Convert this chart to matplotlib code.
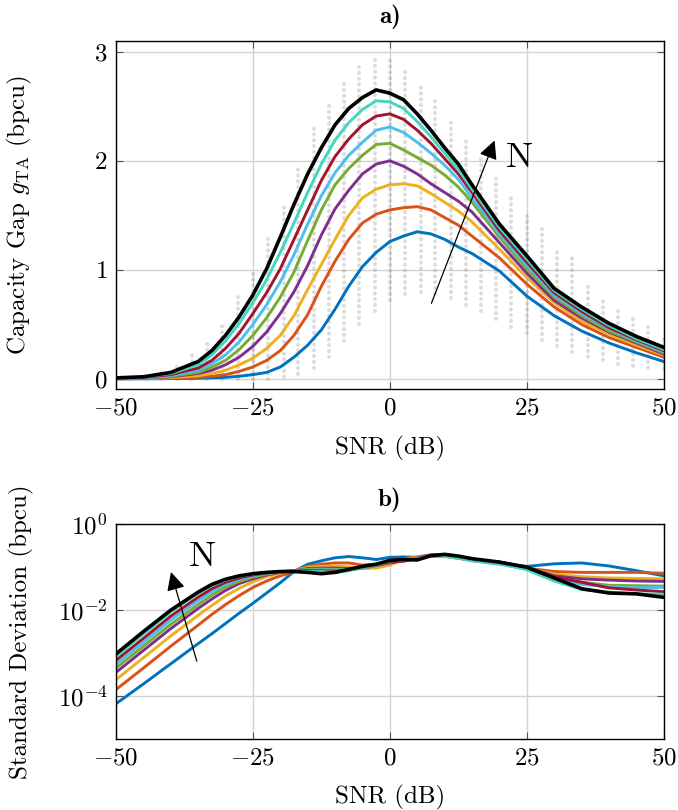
import numpy as np
import matplotlib
matplotlib.use("Agg")
import matplotlib.pyplot as plt

plt.rcParams['font.family'] = 'serif'
plt.rcParams['font.serif'] = ['cmr10']
plt.rcParams['mathtext.fontset'] = 'cm'
plt.rcParams['axes.formatter.use_mathtext'] = True
plt.rcParams['font.size'] = 18

# SNR grid (dB) for the mean curves
snr = [-50, -45, -40, -35, -32.5, -30, -27.5, -25, -22.5, -20, -17.5, -15, -12.5, -10, -7.5,
       -5, -2.5, 0, 2.5, 5, 7.5, 10, 12.5, 15, 20, 25, 30, 35, 40, 45, 50]

# a) capacity gap, one list per N (smallest N first)
gap_n1 = [0.001, 0.002, 0.004, 0.007, 0.01, 0.015, 0.025, 0.04, 0.06, 0.11, 0.20, 0.31, 0.45, 0.64, 0.85,
          1.03, 1.16, 1.26, 1.31, 1.35, 1.33, 1.28, 1.21, 1.15, 0.99, 0.76, 0.58, 0.44, 0.33, 0.24, 0.16]
gap_n2 = [0.002, 0.004, 0.008, 0.015, 0.025, 0.04, 0.07, 0.11, 0.17, 0.26, 0.40, 0.59, 0.85, 1.08, 1.28,
          1.43, 1.51, 1.55, 1.57, 1.58, 1.55, 1.48, 1.41, 1.31, 1.11, 0.87, 0.66, 0.50, 0.38, 0.29, 0.20]
gap_n3 = [0.003, 0.006, 0.012, 0.03, 0.05, 0.08, 0.13, 0.19, 0.28, 0.40, 0.58, 0.82, 1.05, 1.28, 1.50,
          1.66, 1.74, 1.78, 1.79, 1.77, 1.70, 1.62, 1.54, 1.44, 1.19, 0.93, 0.70, 0.53, 0.41, 0.31, 0.22]
gap_n4 = [0.004, 0.008, 0.02, 0.05, 0.08, 0.13, 0.20, 0.30, 0.43, 0.60, 0.80, 1.04, 1.32, 1.56, 1.73,
          1.88, 1.97, 2.00, 1.95, 1.88, 1.79, 1.71, 1.63, 1.53, 1.25, 0.97, 0.72, 0.56, 0.43, 0.33, 0.23]
gap_n5 = [0.005, 0.01, 0.025, 0.06, 0.11, 0.17, 0.27, 0.40, 0.56, 0.75, 0.98, 1.27, 1.55, 1.78, 1.93,
          2.05, 2.15, 2.16, 2.10, 2.03, 1.96, 1.87, 1.76, 1.62, 1.30, 1.01, 0.75, 0.58, 0.44, 0.34, 0.24]
gap_n6 = [0.005, 0.012, 0.03, 0.08, 0.14, 0.22, 0.34, 0.50, 0.68, 0.89, 1.14, 1.42, 1.68, 1.89, 2.05,
          2.17, 2.28, 2.31, 2.26, 2.17, 2.07, 1.96, 1.83, 1.66, 1.33, 1.04, 0.77, 0.60, 0.46, 0.35, 0.25]
gap_n7 = [0.01, 0.015, 0.04, 0.10, 0.17, 0.28, 0.42, 0.60, 0.79, 1.01, 1.28, 1.55, 1.82, 2.04, 2.20,
          2.33, 2.41, 2.43, 2.38, 2.28, 2.16, 2.02, 1.88, 1.71, 1.36, 1.07, 0.79, 0.62, 0.47, 0.36, 0.26]
gap_n8 = [0.01, 0.02, 0.05, 0.13, 0.22, 0.35, 0.51, 0.70, 0.91, 1.16, 1.43, 1.71, 1.97, 2.19, 2.35,
          2.47, 2.55, 2.54, 2.48, 2.36, 2.22, 2.07, 1.92, 1.74, 1.39, 1.10, 0.81, 0.64, 0.49, 0.37, 0.27]
gap_n9 = [0.01, 0.02, 0.06, 0.16, 0.26, 0.40, 0.57, 0.77, 1.01, 1.30, 1.60, 1.88, 2.12, 2.33, 2.48,
          2.58, 2.65, 2.62, 2.56, 2.43, 2.28, 2.12, 1.97, 1.78, 1.42, 1.13, 0.83, 0.66, 0.51, 0.39, 0.29]

# spread of the per-channel samples behind the curves
cloud_snr = [-50, -47.2, -44.4, -41.7, -38.9, -36.1, -33.3, -30.6, -27.8, -25, -22.2, -19.4, -16.7,
             -13.9, -11.1, -8.3, -5.6, -2.8, 0, 2.8, 5.6, 8.3, 11.1, 13.9, 16.7, 19.4, 22.2, 25,
             27.8, 30.6, 33.3, 36.1, 38.9, 41.7, 44.4, 47.2, 50]
cloud_hi = [0.03, 0.03, 0.05, 0.08, 0.13, 0.22, 0.35, 0.52, 0.75, 1.0, 1.28, 1.6, 1.95, 2.3, 2.55,
            2.75, 2.88, 2.95, 2.92, 2.85, 2.72, 2.55, 2.38, 2.2, 2.02, 1.85, 1.67, 1.52, 1.4, 1.2,
            1.12, 0.88, 0.75, 0.62, 0.55, 0.48, 0.4]
cloud_lo = [0.0, 0.0, 0.0, 0.0, 0.0, 0.0, 0.0, 0.0, 0.0, 0.0, 0.0, 0.02, 0.05, 0.1, 0.2, 0.35, 0.5,
            0.62, 0.72, 0.78, 0.8, 0.78, 0.74, 0.68, 0.62, 0.55, 0.48, 0.42, 0.36, 0.3, 0.25, 0.2,
            0.17, 0.14, 0.12, 0.1, 0.09]

# b) standard deviation, stored as log10 values
sd_n1 = [-4.18, -3.72, -3.25, -2.78, -2.55, -2.31, -2.07, -1.84, -1.60, -1.36, -1.10, -0.93, -0.85, -0.78, -0.75,
         -0.78, -0.82, -0.77, -0.76, -0.77, -0.74, -0.72, -0.77, -0.84, -0.90, -0.98, -0.92, -0.90, -0.97, -1.08, -1.20]
sd_n2 = [-3.85, -3.35, -2.84, -2.35, -2.10, -1.87, -1.66, -1.47, -1.32, -1.20, -1.11, -0.98, -0.93, -0.90, -0.90,
         -0.95, -0.93, -0.87, -0.80, -0.76, -0.71, -0.72, -0.77, -0.83, -0.90, -1.02, -1.10, -1.12, -1.12, -1.12, -1.14]
sd_n3 = [-3.62, -3.11, -2.60, -2.12, -1.89, -1.67, -1.49, -1.34, -1.22, -1.14, -1.08, -1.00, -0.98, -0.97, -0.99,
         -1.03, -1.02, -0.95, -0.82, -0.77, -0.73, -0.74, -0.79, -0.84, -0.91, -1.02, -1.16, -1.22, -1.25, -1.26, -1.27]
sd_n4 = [-3.45, -2.94, -2.43, -1.96, -1.74, -1.54, -1.38, -1.27, -1.18, -1.12, -1.08, -1.03, -1.02, -1.02, -1.03,
         -1.02, -0.96, -0.90, -0.85, -0.78, -0.72, -0.72, -0.76, -0.82, -0.88, -1.00, -1.20, -1.27, -1.30, -1.32, -1.33]
sd_n5 = [-3.35, -2.84, -2.33, -1.87, -1.65, -1.46, -1.33, -1.23, -1.16, -1.11, -1.08, -1.05, -1.04, -1.05, -1.05,
         -1.03, -0.95, -0.88, -0.84, -0.80, -0.74, -0.75, -0.79, -0.84, -0.92, -1.05, -1.24, -1.35, -1.42, -1.43, -1.44]
sd_n6 = [-3.26, -2.75, -2.23, -1.78, -1.57, -1.40, -1.28, -1.20, -1.14, -1.10, -1.08, -1.07, -1.06, -1.07, -1.06,
         -1.02, -0.94, -0.86, -0.82, -0.79, -0.73, -0.74, -0.79, -0.85, -0.93, -1.04, -1.25, -1.40, -1.45, -1.48, -1.47]
sd_n7 = [-3.17, -2.66, -2.14, -1.70, -1.50, -1.35, -1.25, -1.18, -1.13, -1.10, -1.09, -1.08, -1.08, -1.09, -1.07,
         -1.00, -0.95, -0.87, -0.86, -0.80, -0.72, -0.72, -0.77, -0.82, -0.88, -1.00, -1.22, -1.35, -1.48, -1.53, -1.57]
sd_n8 = [-3.08, -2.56, -2.04, -1.61, -1.43, -1.30, -1.21, -1.16, -1.12, -1.10, -1.10, -1.10, -1.10, -1.12, -1.08,
         -1.00, -0.95, -0.85, -0.83, -0.81, -0.73, -0.74, -0.78, -0.83, -0.90, -1.06, -1.32, -1.52, -1.58, -1.62, -1.63]
sd_n9 = [-3.02, -2.50, -2.00, -1.58, -1.40, -1.28, -1.20, -1.15, -1.12, -1.10, -1.10, -1.12, -1.15, -1.12, -1.05,
         -0.98, -0.93, -0.84, -0.82, -0.83, -0.73, -0.70, -0.74, -0.80, -0.88, -1.00, -1.25, -1.50, -1.60, -1.62, -1.70]

colors = ['#0072BD', '#D95319', '#EDB120', '#7E2F8E', '#77AC30', '#4DBEEE', '#A2142F', '#40D9C0', 'k']
gaps = [gap_n1, gap_n2, gap_n3, gap_n4, gap_n5, gap_n6, gap_n7, gap_n8, gap_n9]
sds = [sd_n1, sd_n2, sd_n3, sd_n4, sd_n5, sd_n6, sd_n7, sd_n8, sd_n9]

fig = plt.figure(figsize=(6.78, 8.1), dpi=100)
ax1 = fig.add_axes([0.171, 0.520, 0.808, 0.4296])
ax2 = fig.add_axes([0.171, 0.0877, 0.808, 0.265])

def style(ax):
    ax.grid(True, color='#d3d3d3', lw=1.0)
    ax.set_axisbelow(True)
    ax.tick_params(direction='in', top=True, right=True, length=5, width=0.8, color='#555555', pad=6)
    for s in ax.spines.values():
        s.set_linewidth(1.0)
    ax.set_xlim(-50, 50)
    ax.set_xticks([-50, -25, 0, 25, 50])

# plot a)
cl = ax1.vlines(cloud_snr, cloud_lo, cloud_hi, colors='0.25', lw=2.8, alpha=0.18,
                linestyles=(0, (0.1, 1.4)))
cl.set_capstyle('round')
for g, c in zip(gaps, colors):
    ax1.plot(snr, g, color=c, lw=2.6 if c == 'k' else 2.1)
style(ax1)
ax1.set_ylim(-0.09, 3.1)
ax1.set_yticks([0, 1, 2, 3])
ax1.set_xlabel("SNR (dB)")
ax1.set_ylabel(r"Capacity Gap $g_{\mathrm{TA}}$ (bpcu)")
ax1.xaxis.set_label_coords(0.5, -0.135)
ax1.yaxis.set_label_coords(-0.15, 0.5)
ax1.set_title("a)", fontfamily='cmb10', fontsize=18, pad=13)
ax1.annotate('', xy=(19.3, 2.21), xytext=(7.4, 0.67),
             arrowprops=dict(arrowstyle='-|>', lw=0.9, color='k', mutation_scale=28))
ax1.text(23.7, 2.02, "N", fontsize=26, ha='center', va='center')

# plot b)
for s, c in zip(sds, colors):
    ax2.plot(snr, 10 ** np.array(s), color=c, lw=2.6 if c == 'k' else 2.1)
style(ax2)
ax2.set_yscale('log')
ax2.set_ylim(1e-5, 1)
ax2.set_yticks([1, 1e-2, 1e-4])
ax2.minorticks_off()
ax2.set_xlabel("SNR (dB)")
ax2.set_ylabel("Standard Deviation (bpcu)")
ax2.xaxis.set_label_coords(0.5, -0.215)
ax2.yaxis.set_label_coords(-0.15, 0.5)
ax2.set_title("b)", fontfamily='cmb10', fontsize=18, pad=13)
ax2.annotate('', xy=(-40.1, 10 ** -1.05), xytext=(-35.1, 10 ** -3.25),
             arrowprops=dict(arrowstyle='-|>', lw=0.9, color='k', mutation_scale=28))
ax2.text(-34.3, 10 ** -0.77, "N", fontsize=26, ha='center', va='center')

fig.savefig("out.png", dpi=100)
